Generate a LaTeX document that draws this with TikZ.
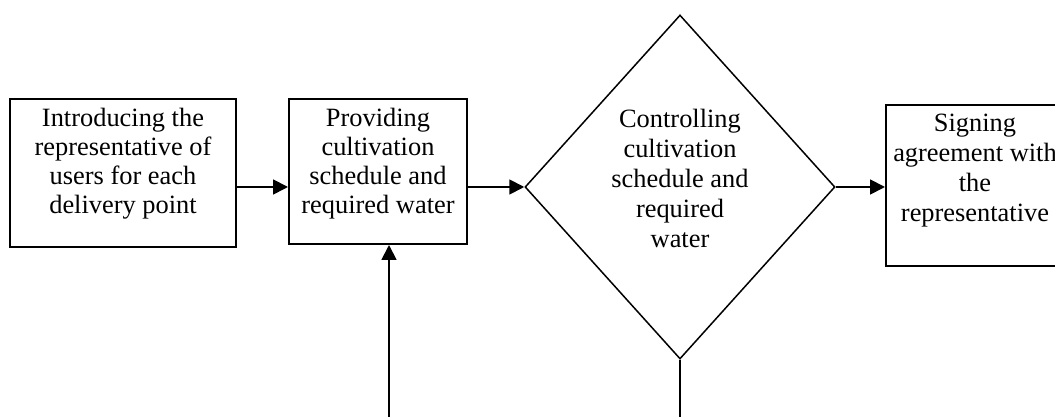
\documentclass[tikz,border=0pt]{standalone}
\usepackage{fontspec}
\setmainfont{Liberation Serif}
\usetikzlibrary{shapes.geometric,arrows.meta}
\begin{document}
\begin{tikzpicture}[x=1pt,y=1pt,
  boxshape/.style={draw,line width=2pt,inner sep=0pt},
  txt/.style={align=center,inner sep=0pt,anchor=north,font=\fontsize{26.4}{29}\selectfont},
  txtb/.style={align=center,inner sep=0pt,anchor=north,font=\fontsize{26.4}{30}\selectfont},
  arr/.style={line width=1.8pt,-{Triangle[length=15pt,width=15pt]}},
  plain/.style={line width=1.8pt}]
\useasboundingbox (0,0) rectangle (1055,417);
\fill[white] (0,0) rectangle (1055,417);
% boxes
\node[boxshape,minimum width=226pt,minimum height=147.5pt] (b1) at (123,244.2) {};
\node[boxshape,minimum width=178pt,minimum height=145pt] (b2) at (378,245.5) {};
\node[boxshape,minimum width=178pt,minimum height=161pt] (b3) at (975,231.5) {};
\node[draw,diamond,line width=1.5pt,inner sep=0pt,minimum width=310pt,minimum height=344pt] (d) at (680,230) {};
% texts
\node[txt] (t1) at (123,309) {Introducing the\\representative of\\users for each\\delivery point};
\node[txt] (t2) at (378,309) {Providing\\cultivation\\schedule and\\required water};
\node[txtb] (t3) at (680,308) {Controlling\\cultivation\\schedule and\\required\\water};
\node[txtb] (t4) at (975,303) {Signing\\agreement with\\the\\representative};
% free ends
\coordinate (c1) at (389,0);
\coordinate (c2) at (d.south |- c1);
% connectors
\draw[arr] (b1.east |- d.west) -- (b2.west |- d.west);
\draw[arr] (b2.east |- d.west) -- (d.west);
\draw[arr] (d.east) -- (b3.west |- d.east);
\draw[arr] (c1) -- (b2.south -| c1);
\draw[plain] (d.south) -- (c2);
\end{tikzpicture}
\end{document}
